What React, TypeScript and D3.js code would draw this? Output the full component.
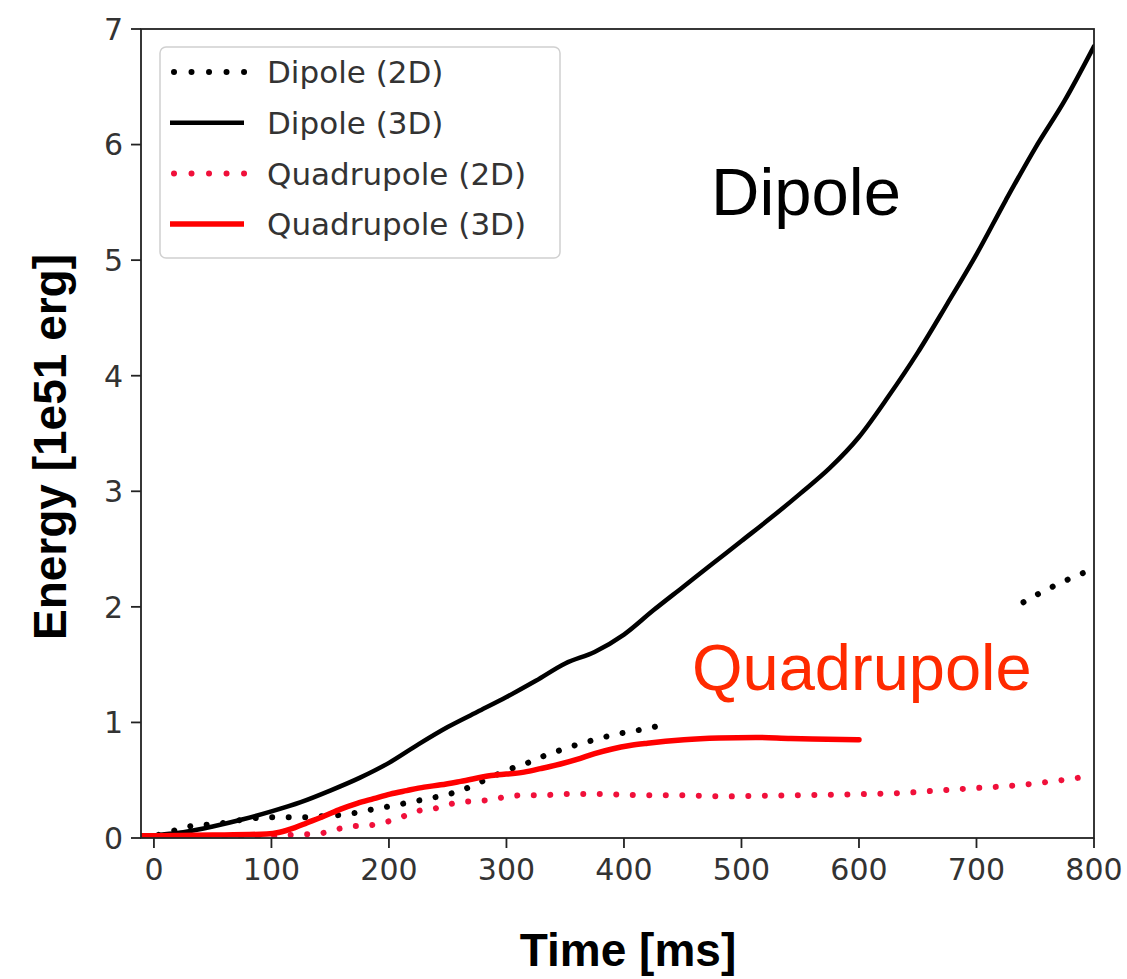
import React from "react";
import * as d3 from "d3";

const dipole3DTime = [-10, 0, 25, 50, 75, 100, 125, 150, 175, 200, 225, 250, 275, 300, 325, 350, 375, 400, 425, 450, 475, 500, 525, 550, 575, 600, 625, 650, 675, 700, 725, 750, 775, 800];
const dipole3DEnergy = [0, 0.02, 0.05, 0.1, 0.16, 0.23, 0.31, 0.41, 0.52, 0.65, 0.81, 0.96, 1.09, 1.22, 1.36, 1.51, 1.61, 1.76, 1.97, 2.17, 2.37, 2.57, 2.77, 2.98, 3.2, 3.47, 3.82, 4.2, 4.62, 5.05, 5.52, 5.97, 6.38, 6.85];

const dipole2DTime = [-10, 0, 10, 22, 36, 52, 70, 97, 113, 127, 145, 159, 173, 187, 204, 218, 233, 247, 261, 275, 290, 304, 318, 332, 346, 361, 375, 390, 405, 421, 435, 436, 740, 756, 768, 783, 800];
const dipole2DEnergy = [0, 0.02, 0.04, 0.08, 0.11, 0.12, 0.15, 0.18, 0.18, 0.18, 0.19, 0.2, 0.22, 0.25, 0.28, 0.31, 0.34, 0.37, 0.41, 0.47, 0.54, 0.6, 0.65, 0.71, 0.76, 0.81, 0.85, 0.89, 0.92, 0.95, 0.985, null, 2.04, 2.13, 2.19, 2.26, 2.33];

const quad3DTime = [-12, 0, 50, 96, 107, 120, 130, 145, 159, 173, 187, 201, 215, 230, 244, 261, 287, 315, 329, 346, 360, 375, 390, 405, 420, 451, 481, 512, 542, 573, 600];
const quad3DEnergy = [0.02, 0.02, 0.025, 0.035, 0.05, 0.09, 0.13, 0.19, 0.25, 0.3, 0.34, 0.38, 0.41, 0.44, 0.46, 0.49, 0.54, 0.57, 0.6, 0.64, 0.68, 0.73, 0.77, 0.8, 0.82, 0.85, 0.865, 0.87, 0.86, 0.855, 0.85];

const quad2DTime = [-10, 50, 100, 122, 139, 153, 168, 184, 198, 213, 227, 241, 255, 271, 287, 301, 316, 332, 346, 380, 420, 450, 484, 515, 545, 575, 605, 636, 666, 696, 727, 757, 786, 800];
const quad2DEnergy = [0, 0, 0.01, 0.03, 0.035, 0.07, 0.1, 0.11, 0.14, 0.19, 0.24, 0.26, 0.3, 0.32, 0.33, 0.36, 0.37, 0.37, 0.38, 0.38, 0.37, 0.37, 0.36, 0.365, 0.37, 0.375, 0.38, 0.39, 0.41, 0.43, 0.45, 0.48, 0.52, 0.54];

const xTicks = [0, 100, 200, 300, 400, 500, 600, 700, 800];
const yTicks = [0, 1, 2, 3, 4, 5, 6, 7];

const seriesNames = ["Dipole (2D)", "Dipole (3D)", "Quadrupole (2D)", "Quadrupole (3D)"];

const RED_DOT = "#f0103a";

type Pt = { t: number; e: number | null };
const zip = (ts: number[], es: (number | null)[]): Pt[] => ts.map((t, i) => ({ t, e: es[i] }));

export default function App() {
  const W = 1127, H = 979;
  const x = d3.scaleLinear().domain([-11, 800]).range([141, 1094]);
  const y = d3.scaleLinear().domain([0, 7]).range([838, 29]);

  const line = d3
    .line<Pt>()
    .defined((d) => d.e != null)
    .x((d) => x(d.t))
    .y((d) => y(d.e as number))
    .curve(d3.curveMonotoneX);

  const series = [
    { name: seriesNames[0], data: zip(dipole2DTime, dipole2DEnergy), color: "#000", dotted: true, w: 6 },
    { name: seriesNames[1], data: zip(dipole3DTime, dipole3DEnergy), color: "#000", dotted: false, w: 4.5 },
    { name: seriesNames[2], data: zip(quad2DTime, quad2DEnergy), color: RED_DOT, dotted: true, w: 6 },
    { name: seriesNames[3], data: zip(quad3DTime, quad3DEnergy), color: "#ff0000", dotted: false, w: 5.5 },
  ];

  const [x0, x1] = x.range();
  const [yb, yt] = y.range();
  const tickFont = "DejaVu Sans, sans-serif";
  const dotDash = "0.01 16.5";

  return (
    <div style={{ position: "absolute", left: 0, top: 0 }}>
      <svg width={W} height={H} style={{ display: "block", background: "#fff" }}>
        <defs>
          <clipPath id="plot">
            <rect x={x0} y={yt} width={x1 - x0} height={yb - yt} />
          </clipPath>
        </defs>
        <rect x={0} y={0} width={W} height={H} fill="#fff" />

        <g clipPath="url(#plot)">
          {series.map((s) => (
            <path
              key={s.name}
              d={line(s.data) || ""}
              fill="none"
              stroke={s.color}
              strokeWidth={s.w}
              strokeDasharray={s.dotted ? dotDash : undefined}
              strokeLinejoin="round"
              strokeLinecap="round"
            />
          ))}
        </g>

        {/* spines */}
        <rect x={x0} y={yt} width={x1 - x0} height={yb - yt} fill="none" stroke="#222" strokeWidth={1.8} />

        {/* x ticks */}
        {xTicks.map((t) => (
          <g key={"x" + t}>
            <line x1={x(t)} x2={x(t)} y1={yb} y2={yb + 10} stroke="#222" strokeWidth={1.8} />
            <text x={x(t)} y={yb + 42} textAnchor="middle" fontFamily={tickFont} fontSize={30} fill="#333">
              {t}
            </text>
          </g>
        ))}
        {/* y ticks */}
        {yTicks.map((t) => (
          <g key={"y" + t}>
            <line x1={x0 - 10} x2={x0} y1={y(t)} y2={y(t)} stroke="#222" strokeWidth={1.8} />
            <text x={x0 - 18} y={y(t)} dy="0.36em" textAnchor="end" fontFamily={tickFont} fontSize={30} fill="#333">
              {t}
            </text>
          </g>
        ))}

        {/* axis labels */}
        <text
          x={628}
          y={966}
          textAnchor="middle"
          fontFamily="Liberation Sans, Arial, sans-serif"
          fontWeight="bold"
          fontSize={46}
          fill="#000"
        >
          Time [ms]
        </text>
        <text
          transform={`translate(66,447) rotate(-90)`}
          textAnchor="middle"
          fontFamily="Liberation Sans, Arial, sans-serif"
          fontWeight="bold"
          fontSize={46}
          fill="#000"
        >
          Energy [1e51 erg]
        </text>

        {/* legend */}
        <rect x={160} y={47} width={400} height={211} rx={6} fill="#fff" fillOpacity={0.85} stroke="#d0d0d0" strokeWidth={1.5} />
        {series.map((s, i) => {
          const ry = 72 + i * 50.7;
          return (
            <g key={"lg" + i}>
              <line
                x1={s.dotted ? 174 : 170}
                x2={s.dotted ? 245 : 244}
                y1={ry}
                y2={ry}
                stroke={s.color}
                strokeWidth={s.w}
                strokeLinecap={s.dotted ? "round" : "butt"}
                strokeDasharray={s.dotted ? "0.01 17.5" : undefined}
              />
              <text x={267} y={ry} dy="0.36em" fontFamily={tickFont} fontSize={31} fill="#333">
                {s.name}
              </text>
            </g>
          );
        })}

        {/* annotations */}
        <text x={711} y={215} fontFamily="Liberation Sans, Arial, sans-serif" fontSize={67} fill="#000">
          Dipole
        </text>
        <text x={692} y={690} fontFamily="Liberation Sans, Arial, sans-serif" fontSize={65} fill="#ff2a00">
          Quadrupole
        </text>
      </svg>
    </div>
  );
}
